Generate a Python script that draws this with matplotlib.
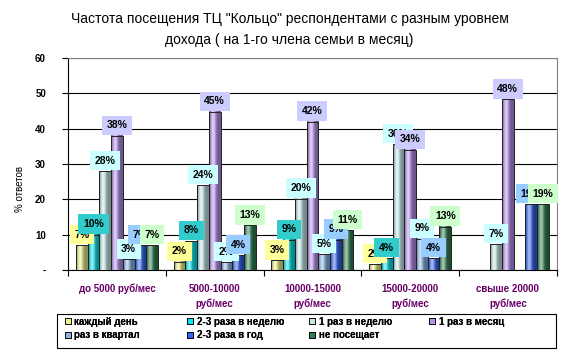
import numpy as np
import matplotlib
matplotlib.use("Agg")
import matplotlib.pyplot as plt
import matplotlib.colors as mcolors
from matplotlib.patches import Rectangle
from matplotlib.lines import Line2D

plt.rcParams['font.family'] = ['Liberation Sans', 'DejaVu Sans']

# Data
groups = ["до 5000 руб/мес", "5000-10000\nруб/мес", "10000-15000\nруб/мес",
          "15000-20000\nруб/мес", "свыше 20000\nруб/мес"]
series = ["каждый день", "2-3 раза в неделю", "1 раз в неделю", "1 раз в месяц",
          "раз в квартал", "2-3 раза в год", "не посещает"]
# bar heights
every_day = [7, 2.3, 2.7, 1.6, 0]
twice_week = [10, 8.2, 8.5, 3.3, 0]
once_week = [28, 24, 20.2, 35.6, 7.3]
once_month = [38, 44.8, 42, 34, 48.3]
quarterly = [3, 2.2, 4.5, 8.8, 0]
twice_year = [7, 4.2, 8.6, 3.3, 18.6]
never = [7, 12.6, 11.3, 12.3, 18.6]
values = [every_day, twice_week, once_week, once_month, quarterly, twice_year, never]
# printed labels
labels = [
    [7, 2, 3, 2, None],
    [10, 8, 9, 4, None],
    [28, 24, 20, 36, 7],
    [38, 45, 42, 34, 48],
    [3, 2, 5, 9, None],
    [7, 4, 9, 4, 19],
    [7, 13, 11, 13, 19],
]

bar_colors = ["#EEEE88", "#00E8F0", "#C4E8E8", "#B890F0", "#88B4E8", "#3060F0", "#2E8050"]
label_bg = ["#FFFF99", "#33CCCC", "#CCFFFF", "#CCCCFF", "#CCFFFF", "#99CCFF", "#CCFFCC"]


def gradient_bar(ax, x0, w, h, color):
    c = np.array(mcolors.to_rgb(color))
    t = np.linspace(0, 1, 40)
    # light band left of centre, darker edges
    light = np.exp(-((t - 0.35) / 0.22) ** 2)
    img = np.empty((1, len(t), 3))
    for i, v in enumerate(light):
        base = c * (0.6 + 0.4 * v)
        img[0, i] = base + (1 - base) * 0.55 * v
    ax.imshow(np.clip(img, 0, 1), extent=(x0, x0 + w, 0, h), aspect='auto',
              zorder=3, interpolation='bilinear')
    ax.add_patch(Rectangle((x0, 0), w, h, fill=False, edgecolor='#222222',
                           linewidth=0.7, zorder=4))


fig = plt.figure(figsize=(5.68, 3.52), dpi=100)
ax = fig.add_axes([0.12, 0.233, 0.86, 0.602])

n = len(series)
bw = 0.12
x = np.arange(len(groups))
for j, vals in enumerate(values):
    offs = (j - (n - 1) / 2) * bw
    for i, v in enumerate(vals):
        if v <= 0:
            continue
        gradient_bar(ax, x[i] + offs - bw / 2, bw, v, bar_colors[j])
        ax.annotate(f"{labels[j][i]}%", (x[i] + offs, v), xytext=(0, 4),
                    textcoords='offset points', ha='center', va='bottom',
                    fontsize=7.5, fontweight='bold', zorder=6,
                    bbox=dict(boxstyle='square,pad=0.45', fc=label_bg[j], ec='none'))

ax.set_xlim(-0.5, len(groups) - 0.5)
ax.set_ylim(0, 60)
ax.set_yticks(np.arange(0, 61, 10))
ax.set_yticklabels(['-'] + [str(v) for v in range(10, 61, 10)],
                   fontsize=7, fontweight='bold')
ax.yaxis.grid(True, color='black', linewidth=0.8, zorder=1)
ax.set_axisbelow(True)
ax.tick_params(axis='y', direction='out', length=4, width=0.8, pad=12)

ax.set_xticks(x)
ax.set_xticklabels(groups, fontsize=7, fontweight='bold', color='#660066',
                   linespacing=1.6)
ax.set_xticks(np.arange(-0.5, len(groups), 1), minor=True)
ax.tick_params(axis='x', which='major', length=0, pad=10)
ax.tick_params(axis='x', which='minor', direction='out', length=4, width=0.8)

for s in ['top', 'right']:
    ax.spines[s].set_color('#808080')
for s in ['left', 'bottom']:
    ax.spines[s].set_color('black')

ax.set_ylabel("% ответов", fontsize=7)
ax.yaxis.set_label_coords(-0.088, 0.38)

fig.text(0.51, 0.945, "Частота посещения ТЦ \"Кольцо\" респондентами с разным уровнем",
         ha='center', va='center', fontsize=10)
fig.text(0.51, 0.885, "дохода ( на 1-го члена семьи в месяц)",
         ha='center', va='center', fontsize=10)

# legend: frame plus four evenly spaced columns
fig.patches.append(Rectangle((0.1, 0.012), 0.878, 0.097, transform=fig.transFigure,
                             fill=False, edgecolor='black', linewidth=0.8))
handles = [Line2D([], [], marker='s', linestyle='none', markersize=5,
                  markerfacecolor=c, markeredgecolor='black', markeredgewidth=0.6)
           for c in bar_colors]
columns = [[0, 4], [1, 5], [2, 6], [3]]
col_x = [0.107, 0.322, 0.537, 0.749]
for cx, idx in zip(col_x, columns):
    lg = fig.legend([handles[k] for k in idx], [series[k] for k in idx],
                    loc='upper left', bbox_to_anchor=(cx, 0.109),
                    prop={'weight': 'bold', 'size': 7}, frameon=False,
                    handlelength=0.8, handletextpad=0.3, borderpad=0.3,
                    labelspacing=0.35, borderaxespad=0)
    fig.add_artist(lg)

fig.savefig("out.png", dpi=100)
